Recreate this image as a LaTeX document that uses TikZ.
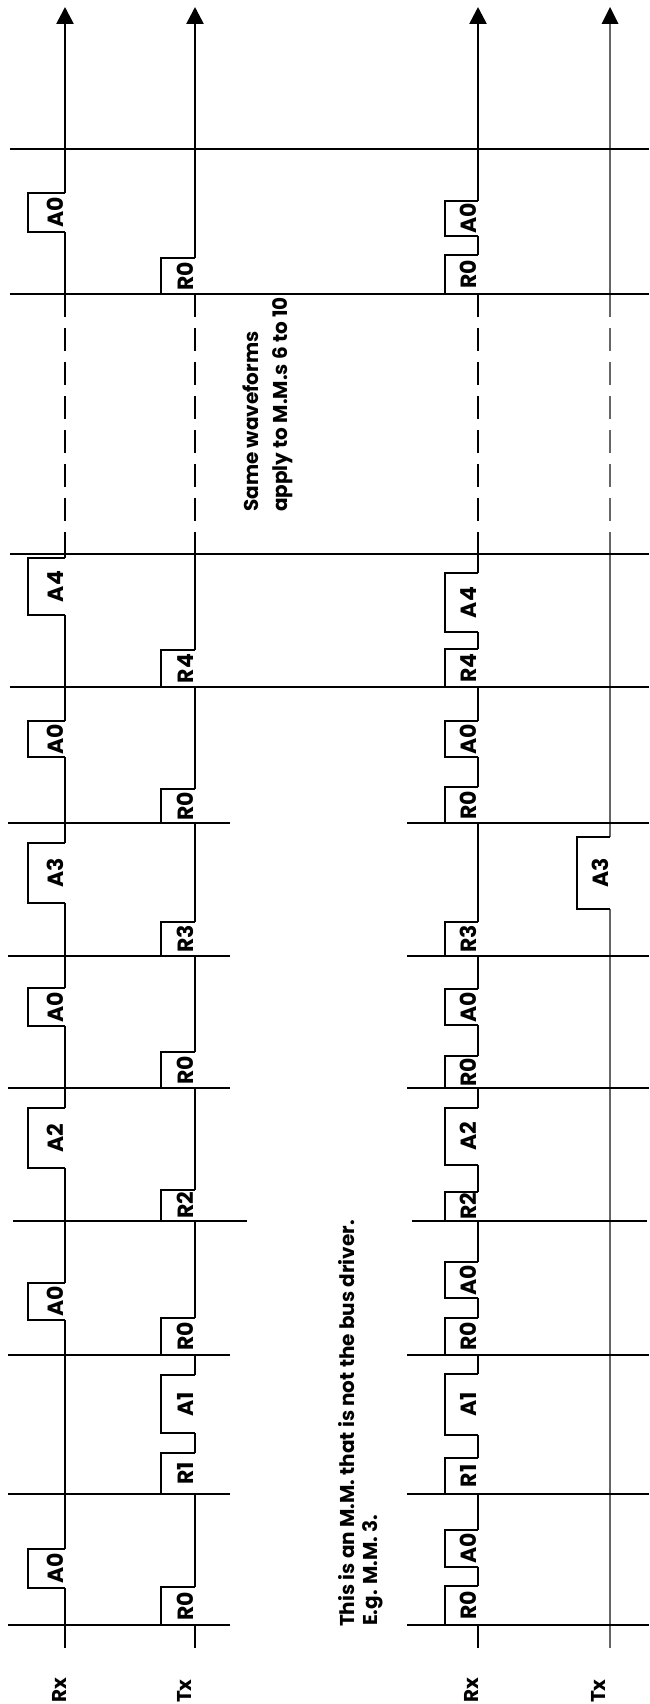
\documentclass[tikz,border=0pt]{standalone}
\usepackage{fontspec}
\setmainfont{Poppins}
\usetikzlibrary{arrows.meta}
\tikzset{
  sigline/.style={line width=2.6pt},
  sigfaint/.style={line width=1.6pt, draw=black!60},
  pulseline/.style={line width=1.8pt, line cap=square, line join=miter},
  timeline/.style={line width=1.6pt},
  dashseg/.style={dash pattern=on 23pt off 11pt},
  uptip/.style={-{Triangle[width=17pt,length=17pt]}},
  plabel/.style={rotate=90, anchor=base, inner sep=0pt, font=\fontsize{22}{26}\selectfont\bfseries},
  signame/.style={rotate=90, anchor=base west, inner sep=0pt, font=\fontsize{20}{24}\selectfont\bfseries},
  note/.style={rotate=90, anchor=base west, inner sep=0pt, font=\fontsize{20}{24}\selectfont\bfseries},
}
% name, extra style, X, W, y bottom, y top, label
\newcommand\mypulse[7]{%
  \fill[white] ({#3-#4+1},#5) rectangle ({#3+2},#6);
  \draw[pulseline,#2] (#3,#5) -- ({#3-#4},#5) -- ({#3-#4},#6) -- (#3,#6);
  \node[plabel] (#1) at ({#3-1.5},{(#5+#6)/2}) {#7};
}
\begin{document}
\begin{tikzpicture}[x=1pt,y=-1pt]
\useasboundingbox (0,0) rectangle (649,1704);
\fill[white] (0,0) rectangle (649,1704);

% signal lines
\foreach \X in {65,195,478} {
  \draw[sigline] (\X,1648) -- (\X,554);
  \draw[sigline,dashseg] (\X,294) -- (\X,554);
  \draw[sigline,uptip] (\X,294) -- (\X,7);
}
\draw[sigfaint] (610,1648) -- (610,554);
\draw[sigfaint,dashseg] (610,294) -- (610,554);
\draw[sigfaint] (610,294) -- (610,22);
\fill (610,7) -- (618.5,24) -- (601.5,24) -- cycle;

% Rx of the bus driver
\mypulse{ra1}{}{65}{37}{1588}{1549}{A0}
\mypulse{ra3}{}{65}{37}{1320}{1283}{A0}
\mypulse{ra4}{}{65}{37}{1168}{1108}{A2}
\mypulse{ra5}{}{65}{37}{1026}{988}{A0}
\mypulse{ra6}{}{65}{37}{903}{843}{A3}
\mypulse{ra7}{}{65}{37}{757}{721}{A0}
\mypulse{ra8}{}{65}{37}{615}{558}{A4}
\mypulse{ra10}{}{65}{37}{232}{193}{A0}

% Tx of the bus driver
\mypulse{tr1}{}{195}{34}{1625}{1587}{R0}
\mypulse{tr2}{}{195}{34}{1494}{1453}{R1}
\mypulse{ta2}{}{195}{34}{1433}{1375}{A1}
\mypulse{tr3}{}{195}{34}{1355}{1318}{R0}
\mypulse{tr4}{}{195}{34}{1221}{1190}{R2}
\mypulse{tr5}{}{195}{34}{1088}{1052}{R0}
\mypulse{tr6}{}{195}{34}{956}{922}{R3}
\mypulse{tr7}{}{195}{34}{823}{789}{R0}
\mypulse{tr8}{}{195}{34}{687}{650}{R4}
\mypulse{tr10}{}{195}{34}{294}{258}{R0}

% Rx of the other M.M.
\mypulse{qr1}{}{478}{33}{1625}{1586}{R0}
\mypulse{qa1}{}{478}{33}{1567}{1530}{A0}
\mypulse{qr2}{}{478}{33}{1494}{1458}{R1}
\mypulse{qa2}{}{478}{33}{1435}{1374}{A1}
\mypulse{qr3}{}{478}{33}{1355}{1318}{R0}
\mypulse{qa3}{}{478}{33}{1298}{1262}{A0}
\mypulse{qr4}{}{478}{33}{1221}{1192}{R2}
\mypulse{qa4}{}{478}{33}{1165}{1108}{A2}
\mypulse{qr5}{}{478}{33}{1088}{1056}{R0}
\mypulse{qa5}{}{478}{33}{1025}{989}{A0}
\mypulse{qr6}{}{478}{33}{956}{922}{R3}
\mypulse{qr7}{}{478}{33}{823}{787}{R0}
\mypulse{qa7}{}{478}{33}{757}{721}{A0}
\mypulse{qr8}{}{478}{33}{687}{649}{R4}
\mypulse{qa8}{}{478}{33}{632}{573}{A4}
\mypulse{qr10}{}{478}{33}{294}{255}{R0}
\mypulse{qa10}{}{478}{33}{236}{201}{A0}

% Tx of the other M.M.
\mypulse{qt6}{}{610}{33}{909}{837}{A3}

% time lines
\foreach \Y in {149,294,554,687} {
  \draw[timeline] (10,\Y) -- (649,\Y);
}
\foreach \Y in {823,956,1088,1355,1494,1625} {
  \draw[timeline] (8,\Y) -- (230,\Y);
  \draw[timeline] (407,\Y) -- (649,\Y);
}
\draw[timeline] (13,1221) -- (247,1221);
\draw[timeline] (412,1221) -- (647,1221);

% signal names
\node[signame] (rx1) at (66,1703) {Rx};
\node[signame] (tx1) at (191,1703) {Tx};
\node[signame] (rx2) at (478,1703) {Rx};
\node[signame] (tx2) at (605,1703) {Tx};

% notes
\node[note] (t1) at (354,1627) {This is an M.M. that is not the bus driver.};
\node[note] (t2) at (377,1626) {E.g. M.M. 3.};
\node[note] (s1) at (258,512) {Same waveforms};
\node[note] (s2) at (287,512) {apply to M.M.s 6 to 10};
\end{tikzpicture}
\end{document}
